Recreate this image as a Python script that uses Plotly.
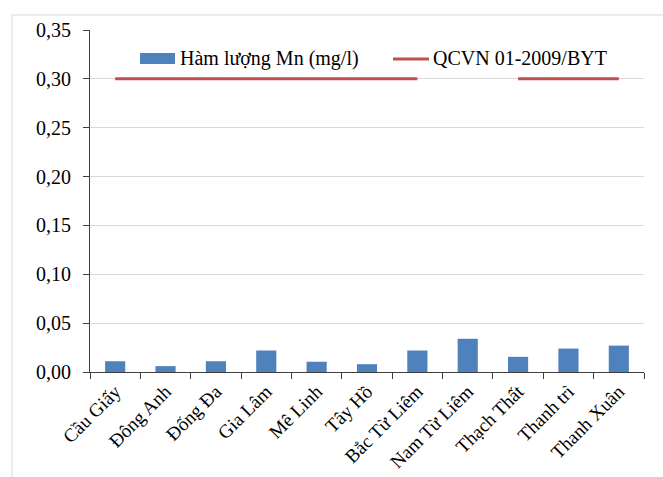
import plotly.graph_objects as go

# Districts and measured manganese content (mg/l)
districts = ["Cầu Giấy", "Đông Anh", "Đống Đa", "Gia Lâm", "Mê Linh", "Tây Hồ",
             "Bắc Từ Liêm", "Nam Từ Liêm", "Thạch Thất", "Thanh trì", "Thanh Xuân"]
mn_content = [0.011, 0.006, 0.011, 0.022, 0.0105, 0.008, 0.022, 0.034, 0.0155, 0.024, 0.027]

# Limit from QCVN 01-2009/BYT (blank cell at Nam Từ Liêm)
qcvn_limit = [0.30, 0.30, 0.30, 0.30, 0.30, 0.30, 0.30, None, 0.30, 0.30, 0.30]

y_ticks = [0.00, 0.05, 0.10, 0.15, 0.20, 0.25, 0.30, 0.35]

BLUE = "#4f81bd"
RED = "#c0504d"
FONT = "Liberation Serif"

fig = go.Figure()
fig.add_trace(go.Bar(x=districts, y=mn_content, name="Hàm lượng Mn (mg/l)",
                     marker=dict(color=BLUE, line=dict(width=0)), width=0.4))
fig.add_trace(go.Scatter(x=districts, y=qcvn_limit, name="QCVN 01-2009/BYT",
                         mode="lines", connectgaps=False,
                         line=dict(color=RED, width=3)))

W, H = 663, 477
L, R, T, B = 90, 19, 30, 105
pw = W - L - R
ph = H - T - B


def px_x(x):
    return (x - L) / pw


def px_y(y):
    return (H - B - y) / ph


shapes = [
    # chart frame
    dict(type="rect", xref="paper", yref="paper", x0=px_x(12), x1=px_x(700),
         y0=px_y(520), y1=px_y(15), line=dict(color="#d9d9d9", width=1),
         fillcolor="rgba(0,0,0,0)", layer="below"),
    # legend swatches
    dict(type="rect", xref="paper", yref="paper", x0=px_x(140), x1=px_x(175),
         y0=px_y(64), y1=px_y(53), fillcolor=BLUE, line=dict(width=0)),
    dict(type="line", xref="paper", yref="paper", x0=px_x(393), x1=px_x(429),
         y0=px_y(59), y1=px_y(59), line=dict(color=RED, width=3)),
]

annotations = [
    dict(text="Hàm lượng Mn (mg/l)", xref="paper", yref="paper", x=px_x(178),
         y=px_y(58), xanchor="left", yanchor="middle", showarrow=False,
         font=dict(family=FONT, size=20, color="#000000")),
    dict(text="QCVN 01-2009/BYT", xref="paper", yref="paper", x=px_x(431),
         y=px_y(58), xanchor="left", yanchor="middle", showarrow=False,
         font=dict(family=FONT, size=20, color="#000000")),
]

fig.update_layout(
    width=W, height=H,
    margin=dict(l=L, r=R, t=T, b=B, pad=0, autoexpand=False),
    paper_bgcolor="white", plot_bgcolor="white",
    separators=",.",
    showlegend=False,
    bargap=0.6,
    font=dict(family=FONT, size=18, color="#000000"),
    shapes=shapes,
    annotations=annotations,
    xaxis=dict(
        type="category", tickangle=-45, tickson="boundaries", automargin=False,
        ticks="outside", ticklen=6, tickcolor="#404040", tickwidth=1,
        showline=True, linecolor="#404040", linewidth=1,
        showgrid=False, tickfont=dict(family=FONT, size=19, color="#000000"),
    ),
    yaxis=dict(
        range=[0, 0.35], tickvals=y_ticks, tickformat=".2f", automargin=False,
        ticks="outside", ticklen=6, tickcolor="#404040", tickwidth=1,
        showline=True, linecolor="#404040", linewidth=1,
        showgrid=True, gridcolor="#d9d9d9", gridwidth=1, zeroline=False,
        ticklabelstandoff=8,
        tickfont=dict(family=FONT, size=20, color="#000000"),
    ),
)

fig.write_html("out.html")
